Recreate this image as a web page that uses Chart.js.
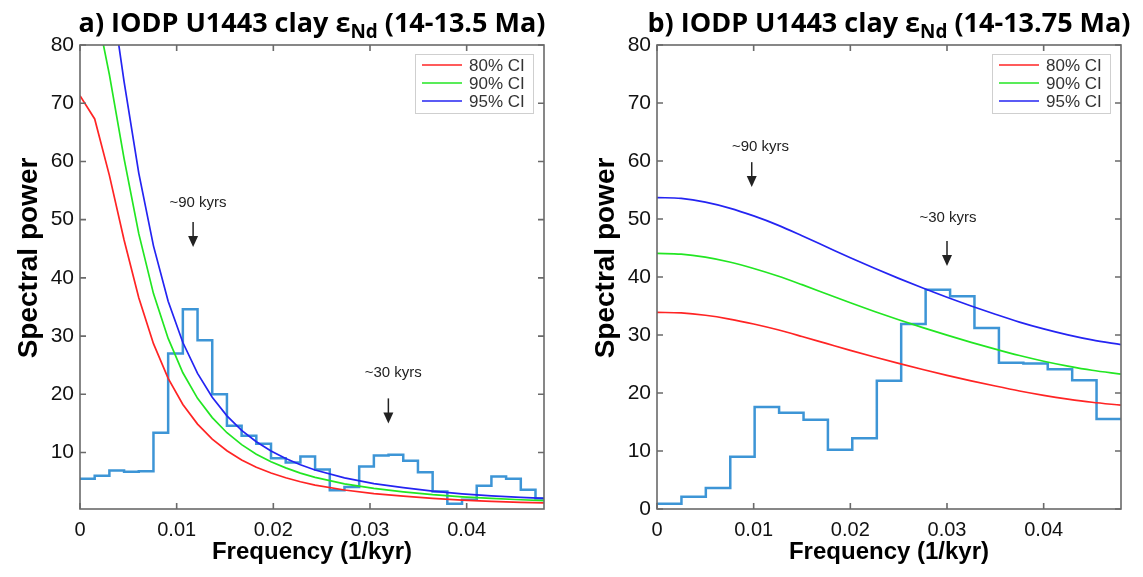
<!DOCTYPE html>
<html>
<head>
<meta charset="utf-8">
<script src="https://cdn.jsdelivr.net/npm/chart.js@4.4.1/dist/chart.umd.min.js"></script>
<style>
html,body{margin:0;padding:0;background:#fff;}
body{width:1143px;height:577px;position:relative;overflow:hidden;}
.panel{position:absolute;top:0;height:577px;}
.title{position:absolute;top:7px;font-family:'Open Sans',sans-serif;font-weight:700;font-size:27px;line-height:30px;white-space:nowrap;color:#000;transform:translateX(-50%);}
.title sub{font-size:0.7em;vertical-align:-0.3em;line-height:0;}
</style>
</head>
<body>
<div class="panel" style="left:0;width:570px"><canvas id="ca" width="570" height="577"></canvas></div>
<div class="panel" style="left:570px;width:573px"><canvas id="cb" width="573" height="577"></canvas></div>
<div class="title" style="left:312px">a) IODP U1443 clay ε<sub>Nd</sub> (14-13.5 Ma)</div>
<div class="title" style="left:889px">b) IODP U1443 clay ε<sub>Nd</sub> (14-13.75 Ma)</div>
<script>
// ---------- data ----------
const xTicks = [0, 0.01, 0.02, 0.03, 0.04];
const xTickLabels = ['0', '0.01', '0.02', '0.03', '0.04'];
const yTicksA = [10, 20, 30, 40, 50, 60, 70, 80];
const yTicksB = [0, 10, 20, 30, 40, 50, 60, 70, 80];
const ciLabels = ['80% CI', '90% CI', '95% CI'];
const xTitle = 'Frequency (1/kyr)';
const yTitle = 'Spectral power';

// panel a: spectrum (stairs), bin left edges + final edge
const binEdgesA = [0, 0.00152, 0.00304, 0.00456, 0.00608, 0.0076, 0.00912, 0.01064, 0.01216, 0.01368,
  0.0152, 0.01672, 0.01824, 0.01976, 0.02128, 0.0228, 0.02432, 0.02584, 0.02736, 0.02888,
  0.0304, 0.03192, 0.03344, 0.03496, 0.03648, 0.038, 0.03952, 0.04104, 0.04256, 0.04408,
  0.0456, 0.04712, 0.048];
const powerA = [5.5, 6.0, 6.9, 6.7, 6.8, 13.4, 27.0, 34.6, 29.3, 20.0,
  14.6, 12.9, 11.5, 9.0, 8.3, 9.3, 7.1, 3.5, 4.1, 7.6,
  9.5, 9.6, 8.6, 6.6, 3.3, 1.2, 1.9, 4.3, 5.9, 5.5,
  3.6, 2.1];
const ciFreqA = [0, 0.00152, 0.00304, 0.00456, 0.00608, 0.0076, 0.00912, 0.01064, 0.01216, 0.01368,
  0.0152, 0.01672, 0.01824, 0.01976, 0.02128, 0.0228, 0.02432, 0.02736, 0.0304, 0.03344,
  0.03648, 0.03952, 0.04256, 0.0456, 0.048];
const ci80A = [71.3, 67.3, 57.6, 46.5, 36.6, 28.7, 22.75, 18.26, 14.88, 12.29,
  10.30, 8.73, 7.48, 6.48, 5.66, 4.98, 4.41, 3.56, 2.95, 2.5,
  2.12, 1.84, 1.62, 1.45, 1.34];
const ci90A = [92.7, 87.5, 74.9, 60.5, 47.6, 37.3, 29.6, 23.7, 19.3, 16.0,
  13.4, 11.35, 9.72, 8.42, 7.36, 6.47, 5.73, 4.63, 3.84, 3.25,
  2.76, 2.39, 2.11, 1.89, 1.74];
const ci95A = [112.9, 106.6, 91.2, 73.7, 58.0, 45.5, 36.0, 28.9, 23.6, 19.5,
  16.3, 13.8, 11.85, 10.26, 8.97, 7.89, 6.99, 5.64, 4.67, 3.96,
  3.36, 2.91, 2.57, 2.30, 2.12];

// panel b
const binEdgesB = [0, 0.00253, 0.00505, 0.00758, 0.0101, 0.01263, 0.01516, 0.01768, 0.0202, 0.02274,
  0.02526, 0.02779, 0.03032, 0.03284, 0.03537, 0.0379, 0.04042, 0.04295, 0.04547, 0.048];
const powerB = [0.9, 2.1, 3.6, 9.0, 17.6, 16.6, 15.4, 10.2, 12.2, 22.1,
  31.9, 37.8, 36.7, 31.2, 25.2, 25.1, 24.1, 22.2, 15.5];
const ciFreqB = [0, 0.0025, 0.005, 0.0075, 0.01, 0.0125, 0.015, 0.0175, 0.02, 0.0225,
  0.025, 0.0275, 0.03, 0.0325, 0.035, 0.0375, 0.04, 0.0425, 0.045, 0.048];
const ci80B = [33.9, 33.8, 33.4, 32.75, 31.9, 30.9, 29.75, 28.55, 27.35, 26.2,
  25.1, 24.05, 23.05, 22.1, 21.2, 20.35, 19.6, 18.95, 18.4, 17.9];
const ci90B = [44.07, 43.94, 43.42, 42.58, 41.47, 40.17, 38.68, 37.12, 35.56, 34.06,
  32.63, 31.27, 29.97, 28.73, 27.56, 26.46, 25.48, 24.64, 23.92, 23.27];
const ci95B = [53.70, 53.54, 52.91, 51.88, 50.53, 48.95, 47.12, 45.22, 43.32, 41.50,
  39.76, 38.10, 36.51, 35.01, 33.58, 32.23, 31.05, 30.02, 29.15, 28.35];

const notesA = [
  {label: '~90 kyrs', textX: 0.0122, textY: 52.9, arrowX: 0.0117, arrowTop: 49.6, arrowBottom: 45.3},
  {label: '~30 kyrs', textX: 0.0324, textY: 23.6, arrowX: 0.0319, arrowTop: 19.3, arrowBottom: 15.0}
];
const notesB = [
  {label: '~90 kyrs', textX: 0.0107, textY: 62.4, arrowX: 0.0098, arrowTop: 59.8, arrowBottom: 55.5},
  {label: '~30 kyrs', textX: 0.0301, textY: 50.2, arrowX: 0.0300, arrowTop: 46.2, arrowBottom: 41.9}
];

// ---------- styles ----------
const RED = '#ff2424', GREEN = '#22e622', BLUE = '#2424f2', HIST = '#3d95d6', FRAME = '#6a6a6a';
const SANS = "'Liberation Sans', Arial, sans-serif";

const framePlugin = {
  id: 'frame',
  afterDatasetsDraw(chart) {
    const {ctx, chartArea: a, scales: {x, y}} = chart;
    ctx.save();
    ctx.strokeStyle = FRAME;
    ctx.lineWidth = 1.6;
    ctx.strokeRect(a.left, a.top, a.right - a.left, a.bottom - a.top);
    ctx.beginPath();
    const L = 6;
    x.ticks.forEach(t => {
      const px = x.getPixelForValue(t.value);
      ctx.moveTo(px, a.bottom); ctx.lineTo(px, a.bottom - L);
      ctx.moveTo(px, a.top); ctx.lineTo(px, a.top + L);
    });
    y.ticks.forEach(t => {
      const py = y.getPixelForValue(t.value);
      ctx.moveTo(a.left, py); ctx.lineTo(a.left + L, py);
      ctx.moveTo(a.right, py); ctx.lineTo(a.right - L, py);
    });
    ctx.stroke();
    ctx.restore();
  }
};

// y-axis title drawn slightly above the axis centre, as in the original figure
const yTitlePlugin = {
  id: 'yTitle',
  afterDraw(chart, args, opts) {
    const {ctx, chartArea: a} = chart;
    ctx.save();
    ctx.translate(opts.x, (a.top + a.bottom) / 2 - 19);
    ctx.rotate(-Math.PI / 2);
    ctx.fillStyle = '#000';
    ctx.font = 'bold 28px ' + SANS;
    ctx.textAlign = 'center';
    ctx.textBaseline = 'middle';
    ctx.fillText(opts.text, 0, 0);
    ctx.restore();
  }
};

const notesPlugin = {
  id: 'notes',
  afterDatasetsDraw(chart, args, opts) {
    const {ctx, scales: {x, y}} = chart;
    ctx.save();
    (opts.items || []).forEach(it => {
      ctx.fillStyle = '#222';
      ctx.font = '15px ' + SANS;
      ctx.textAlign = 'center';
      ctx.textBaseline = 'middle';
      ctx.fillText(it.label, x.getPixelForValue(it.textX), y.getPixelForValue(it.textY));
      const ax = x.getPixelForValue(it.arrowX);
      const at = y.getPixelForValue(it.arrowTop);
      const ab = y.getPixelForValue(it.arrowBottom);
      ctx.strokeStyle = '#222';
      ctx.lineWidth = 1.5;
      ctx.beginPath(); ctx.moveTo(ax, at); ctx.lineTo(ax, ab - 8); ctx.stroke();
      ctx.beginPath(); ctx.moveTo(ax - 5, ab - 11); ctx.lineTo(ax + 5, ab - 11); ctx.lineTo(ax, ab); ctx.closePath(); ctx.fill();
    });
    ctx.restore();
  }
};

const legendPlugin = {
  id: 'ciLegend',
  afterDraw(chart) {
    const {ctx, chartArea: a} = chart;
    const bw = 118, bh = 59;
    const bx = a.right - 129, by = a.top + 9;
    ctx.save();
    ctx.fillStyle = '#fff';
    ctx.fillRect(bx, by, bw, bh);
    ctx.strokeStyle = '#cfcfcf';
    ctx.lineWidth = 1;
    ctx.strokeRect(bx + 0.5, by + 0.5, bw, bh);
    chart.data.datasets.slice(0, 3).forEach((ds, i) => {
      const yy = by + 11 + i * 18;
      ctx.strokeStyle = ds.borderColor;
      ctx.lineWidth = 1.5;
      ctx.beginPath(); ctx.moveTo(bx + 7, yy); ctx.lineTo(bx + 47, yy); ctx.stroke();
      ctx.fillStyle = '#333';
      ctx.font = '17px ' + SANS;
      ctx.textAlign = 'left';
      ctx.textBaseline = 'middle';
      ctx.fillText(ds.label, bx + 54, yy + 1);
    });
    ctx.restore();
  }
};

function makeChart(id, p) {
  const hist = p.power.map((v, i) => ({x: p.edges[i], y: v}));
  hist.push({x: p.edges[p.edges.length - 1], y: p.power[p.power.length - 1]});
  const ci = arr => arr.map((v, i) => ({x: p.ciFreq[i], y: v}));
  const lineDs = (label, arr, color) => ({
    label, data: ci(arr), borderColor: color, borderWidth: 1.7, pointRadius: 0, fill: false,
    tension: p.tension, cubicInterpolationMode: p.tension ? 'monotone' : 'default'
  });
  return new Chart(document.getElementById(id), {
    type: 'line',
    data: {datasets: [
      lineDs(ciLabels[0], p.ci80, RED),
      lineDs(ciLabels[1], p.ci90, GREEN),
      lineDs(ciLabels[2], p.ci95, BLUE),
      {label: 'spectrum', data: hist, stepped: 'before', borderColor: HIST, borderWidth: 2.5, pointRadius: 0, fill: false}
    ]},
    plugins: [framePlugin, notesPlugin, legendPlugin, yTitlePlugin],
    options: {
      responsive: false, animation: false, devicePixelRatio: 1,
      layout: {padding: {top: 45, right: p.padRight, left: 0, bottom: 0}},
      plugins: {legend: {display: false}, tooltip: {enabled: false}, notes: {items: p.notes},
        yTitle: {text: yTitle, x: p.yTitleX}},
      scales: {
        x: {
          type: 'linear', min: 0, max: 0.048,
          afterBuildTicks: s => { s.ticks = xTicks.map(v => ({value: v})); },
          afterFit: s => { s.height = 68; },
          grid: {display: false, drawTicks: false}, border: {display: false},
          ticks: {callback: (v, i) => xTickLabels[i], font: {family: SANS, size: 20}, color: '#111', padding: 9, maxRotation: 0, autoSkip: false},
          title: {display: true, text: xTitle, font: {family: SANS, size: 24, weight: 'bold'}, color: '#000', padding: {top: 0, bottom: 10}}
        },
        y: {
          type: 'linear', min: p.yMin, max: 80,
          afterBuildTicks: s => { s.ticks = p.yTicks.map(v => ({value: v})); },
          afterFit: s => { s.width = p.yWidth; },
          grid: {display: false, drawTicks: false}, border: {display: false},
          ticks: {callback: v => String(v), font: {family: SANS, size: 21}, color: '#111', padding: 6, autoSkip: false},
          title: {display: false}
        }
      }
    }
  });
}

makeChart('ca', {edges: binEdgesA, power: powerA, ciFreq: ciFreqA, ci80: ci80A, ci90: ci90A, ci95: ci95A,
  yTicks: yTicksA, yMin: 0.3, yWidth: 80, padRight: 26, yTitleX: 29, tension: 0, notes: notesA});
makeChart('cb', {edges: binEdgesB, power: powerB, ciFreq: ciFreqB, ci80: ci80B, ci90: ci90B, ci95: ci95B,
  yTicks: yTicksB, yMin: 0, yWidth: 87, padRight: 22, yTitleX: 36, tension: 0.4, notes: notesB});
</script>
</body>
</html>
